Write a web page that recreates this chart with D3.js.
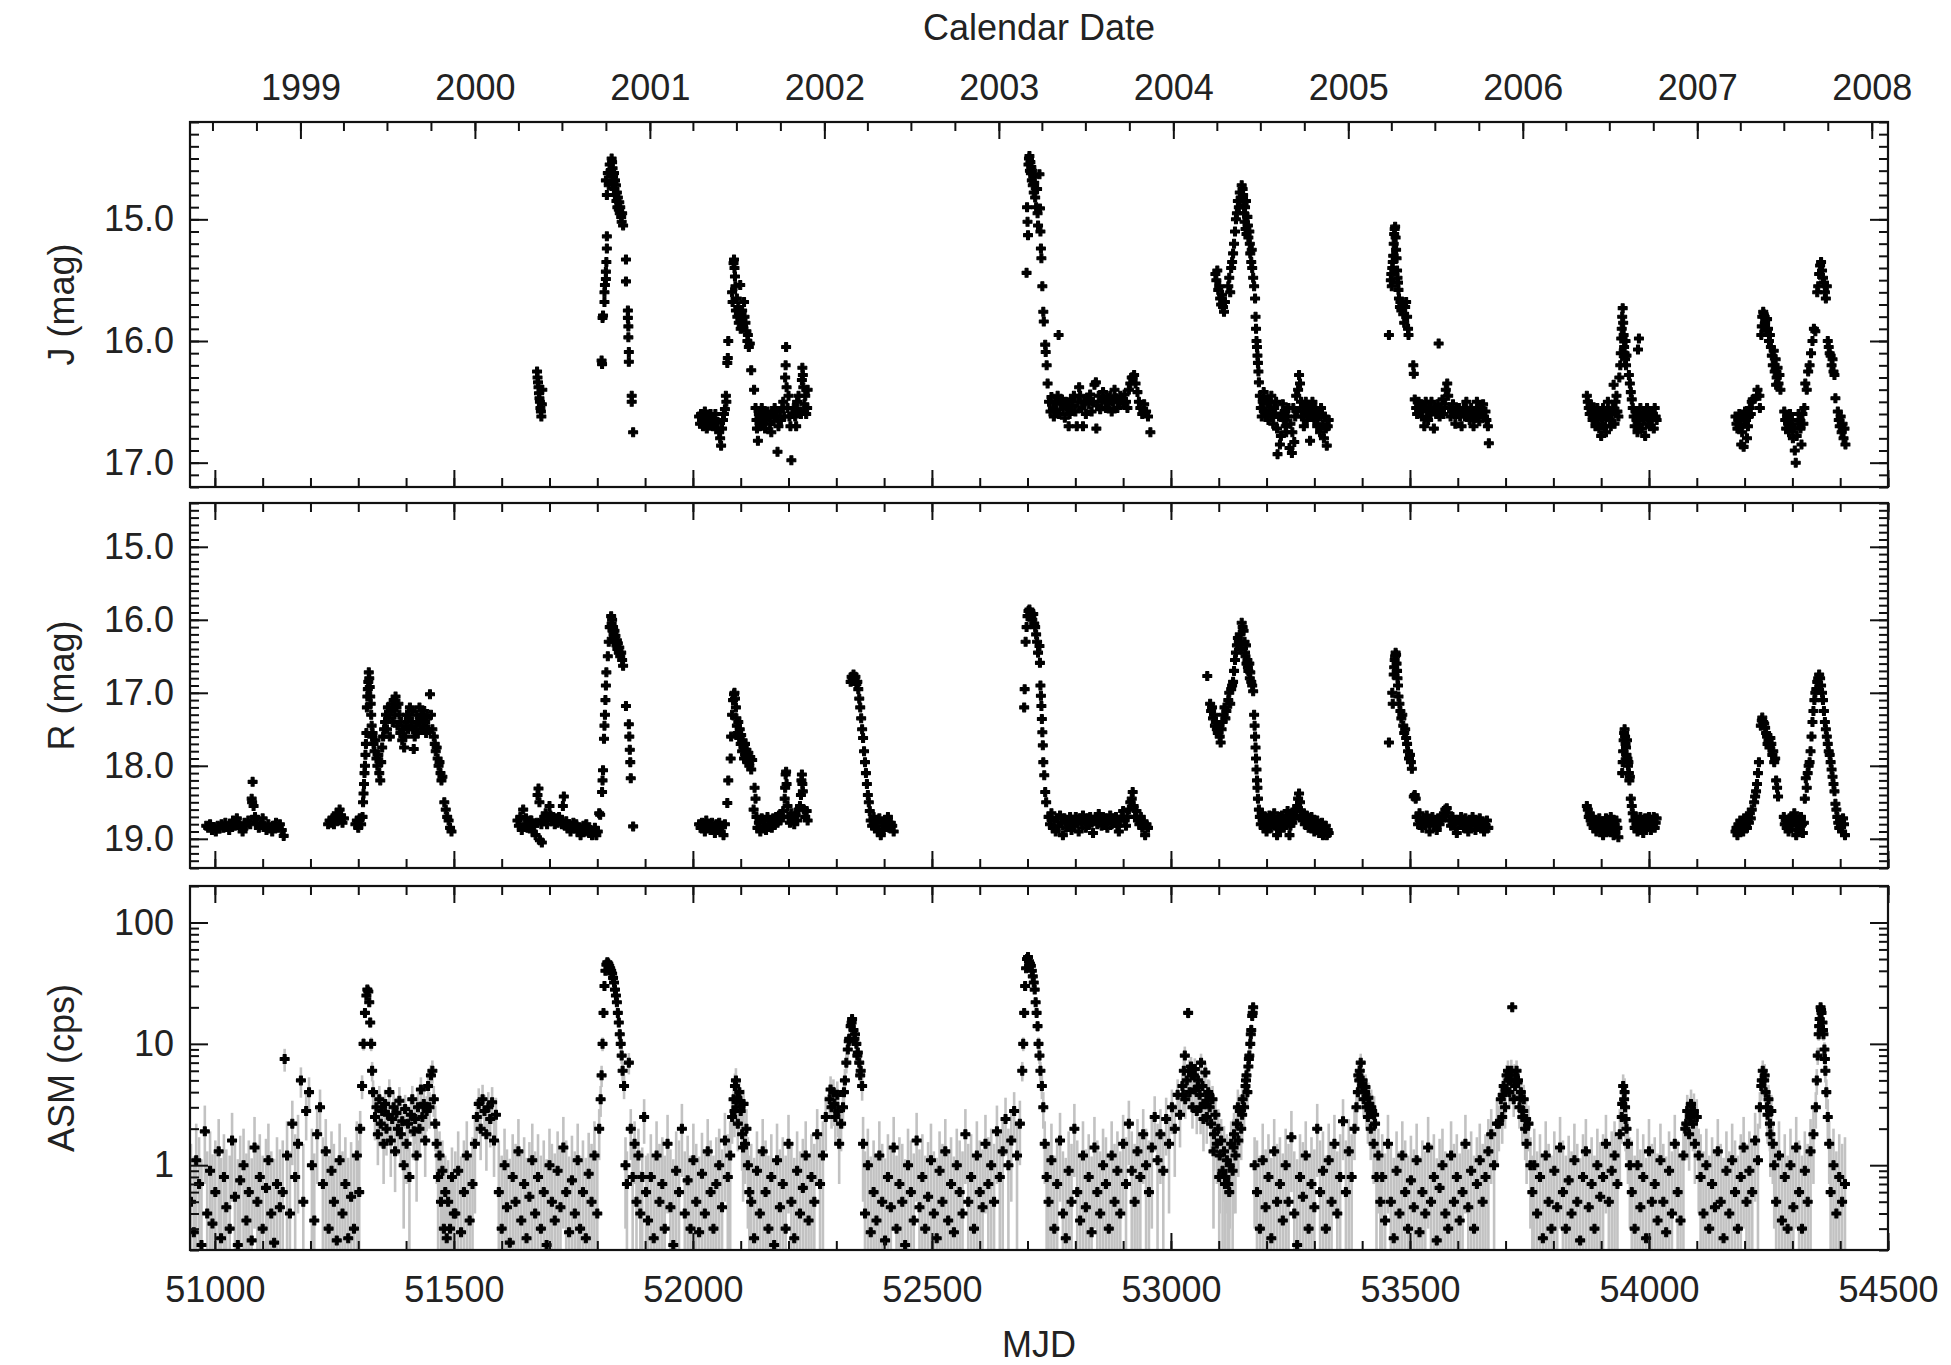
<!DOCTYPE html>
<html><head><meta charset="utf-8">
<script src="https://cdn.jsdelivr.net/npm/d3@7"></script>
<style>body{margin:0;background:#fff}svg text{font-family:"Liberation Sans",Arial,Helvetica,sans-serif;fill:#222}</style>
</head><body><svg id="chart" width="1951" height="1365"></svg>
<script>
// ---------------- DATA ----------------
const mjdTicksMajor = [51000,51500,52000,52500,53000,53500,54000,54500];
const jTicks = [15.0,16.0,17.0];
const rTicks = [15.0,16.0,17.0,18.0,19.0];
const asmTicks = [1,10,100];

// J band light curve [MJD, mag]
const jMag = [
[51674,16.25],[51675,16.3],[51676,16.34],[51677,16.38],[51678,16.43],[51679,16.47],[51680,16.5],[51681,16.55],[51682,16.58],[51683,16.62],[51684,16.52],[51685,16.4],
[51809,16.16],[51810,16.19],[51811,15.81],[51812,15.79],[51815,15.68],[51815,15.6],[51816,15.54],[51818,15.49],[51818,15.43],[51819,15.35],[51820,15.24],[51820,15.14],
[51818,14.68],[51820,14.8],[51822,14.62],[51824,14.72],[51826,14.55],[51828,14.6],[51830,14.5],[51831,14.53],[51832,14.58],[51833,14.65],[51834,14.7],[51835,14.62],[51836,14.75],[51837,14.68],[51838,14.8],[51839,14.72],[51840,14.85],[51841,14.78],[51842,14.9],[51843,14.82],[51845,14.92],[51846,14.86],[51847,14.95],[51848,14.9],[51850,14.98],[51851,15.02],[51852,14.95],[51854,15.05],
[51860,15.33],[51860,15.51],[51864,15.75],[51864,15.81],[51865,15.88],[51865,15.97],[51866,16.09],[51866,16.17],[51872,16.45],[51872,16.5],[51875,16.75],
[52013,16.62],[52015,16.68],[52017,16.6],[52019,16.65],[52021,16.7],[52023,16.63],[52025,16.58],[52027,16.66],[52029,16.72],[52032,16.62],[52034,16.68],[52037,16.6],[52040,16.65],[52042,16.7],[52045,16.64],[52047,16.6],[52050,16.72],[52052,16.67],[52055,16.75],[52057,16.8],[52059,16.86],[52061,16.72],[52063,16.65],[52065,16.6],[52067,16.56],
[52069,16.45],[52070,16.5],[52072,16.18],[52073,16.14],[52074,16.0],
[52085,15.36],[52086,15.33],[52087,15.4],[52088,15.47],[52089,15.55],[52082,15.6],[52083,15.68],[52090,15.75],[52092,15.65],[52093,15.8],[52095,15.72],[52096,15.85],[52098,15.78],[52100,15.9],[52102,15.82],[52103,15.75],[52105,15.88],[52107,15.68],[52108,15.8],[52110,15.85],[52112,15.92],[52114,16.0],[52115,15.95],[52117,16.05],[52119,16.02],[52099,15.54],
[52122,16.24],[52128,16.4],
[52131,16.55],[52133,16.65],[52134,16.72],[52136,16.82],[52138,16.6],[52140,16.7],[52142,16.62],[52144,16.55],[52146,16.68],[52148,16.6],[52151,16.72],[52153,16.65],[52156,16.58],[52159,16.62],[52161,16.68],[52164,16.75],[52166,16.6],[52169,16.66],[52171,16.55],[52174,16.62],[52177,16.91],[52179,16.7],[52182,16.58],[52184,16.65],[52187,16.55],[52189,16.5],[52191,16.62],[52193,16.3],[52194,16.2],[52195,16.05],[52196,16.38],[52198,16.55],[52200,16.45],[52202,16.62],[52204,16.7],[52206,16.98],[52208,16.6],[52211,16.55],[52214,16.62],[52216,16.7],[52218,16.5],[52221,16.45],[52224,16.58],[52226,16.6],[52228,16.32],[52229,16.22],[52230,16.28],[52231,16.38],[52233,16.52],[52235,16.45],[52237,16.6],[52239,16.55],[52240,16.4],
[52698,15.44],[52699,14.9],[52700,15.02],[52701,15.13],[52702,14.55],[52703,14.5],[52704,14.48],[52705,14.6],[52706,14.53],[52707,14.62],[52708,14.57],[52709,14.68],[52710,14.6],[52711,14.72],[52712,14.65],[52713,14.78],[52714,14.7],[52716,14.82],[52718,14.9],[52720,14.75],[52721,14.95],[52722,15.05],
[52725,14.63],[52726,14.91],[52727,15.1],[52728,15.24],[52729,15.32],[52731,15.55],[52733,15.76],[52734,15.84],[52737,16.03],[52738,16.09],[52740,16.2],[52742,16.35],[52765,15.95],
[52745,16.5],[52748,16.58],[52750,16.46],[52753,16.55],[52755,16.62],[52758,16.5],[52760,16.57],[52763,16.45],[52766,16.6],[52769,16.52],[52772,16.48],[52775,16.56],[52778,16.63],[52780,16.5],[52783,16.55],[52786,16.7],[52788,16.6],[52791,16.48],[52794,16.53],[52797,16.45],[52800,16.58],[52803,16.7],[52805,16.5],[52808,16.38],[52810,16.45],[52813,16.55],[52816,16.7],[52819,16.5],[52822,16.6],[52825,16.47],[52828,16.52],[52831,16.44],[52834,16.58],[52837,16.5],[52840,16.36],[52843,16.34],[52846,16.53],[52849,16.45],[52844,16.72],[52852,16.56],[52855,16.5],[52858,16.42],[52861,16.48],[52864,16.55],[52867,16.47],[52870,16.52],[52873,16.45],[52876,16.58],[52879,16.5],[52882,16.4],[52885,16.47],[52888,16.55],[52891,16.5],[52894,16.45],[52897,16.48],[52900,16.52],[52903,16.44],[52906,16.5],[52909,16.55],[52912,16.4],[52915,16.35],[52918,16.3],[52920,16.3],[52923,16.28],[52926,16.35],[52930,16.42],[52933,16.5],[52936,16.55],[52940,16.6],[52944,16.52],[52948,16.58],[52952,16.62],[52957,16.75],
[53093,15.45],[53095,15.5],[53097,15.42],[53099,15.58],[53101,15.55],[53103,15.65],[53105,15.7],[53107,15.62],[53109,15.72],[53111,15.76],[53113,15.68],
[53120,15.55],[53122,15.48],[53124,15.6],[53126,15.4],[53128,15.35],[53130,15.28],[53132,15.2],[53134,15.1],
[53136,15.0],[53138,14.95],[53140,14.85],[53142,14.9],[53144,14.78],[53146,14.82],[53148,14.72],[53150,14.75],[53151,14.8],[53152,14.88],[53153,14.95],[53154,15.02],[53155,14.9],[53156,15.08],[53157,14.85],[53158,15.12],[53160,14.98],[53161,15.05],[53162,15.15],[53164,15.1],[53165,15.2],[53166,15.28],[53168,15.35],[53169,15.25],[53170,15.4],[53172,15.48],
[53174,15.55],[53176,15.65],[53177,15.8],[53178,15.9],[53179,16.0],[53180,16.05],[53181,16.12],[53182,16.18],[53183,16.25],[53184,16.34],
[53186,16.45],[53188,16.55],[53190,16.62],[53192,16.5],[53194,16.42],[53196,16.58],[53198,16.48],[53200,16.6],[53202,16.52],[53204,16.65],[53206,16.5],[53208,16.57],[53210,16.45],[53212,16.62],[53214,16.68],[53216,16.55],[53218,16.6],[53220,16.5],[53222,16.72],[53223,16.93],[53226,16.62],[53228,16.85],[53230,16.78],[53232,16.6],[53234,16.52],[53236,16.65],[53238,16.58],[53240,16.7],[53241,16.75],[53244,16.62],[53246,16.55],[53248,16.88],[53250,16.68],[53253,16.92],[53254,16.75],[53256,16.55],[53258,16.83],[53260,16.62],[53262,16.45],[53264,16.58],[53266,16.4],[53268,16.28],[53270,16.35],[53272,16.5],[53274,16.62],[53276,16.55],[53278,16.7],[53280,16.58],[53282,16.5],[53284,16.65],[53286,16.55],[53288,16.6],[53291,16.82],[53292,16.55],[53294,16.62],[53296,16.5],[53298,16.58],[53300,16.65],[53302,16.55],[53304,16.6],[53306,16.7],[53308,16.58],[53310,16.62],[53312,16.75],[53314,16.55],[53316,16.6],[53318,16.68],[53320,16.8],[53322,16.62],[53324,16.72],[53326,16.86],[53328,16.7],[53330,16.65],
[53456,15.95],[53460,15.5],[53461,15.45],[53462,15.55],[53463,15.4],[53464,15.35],[53465,15.3],[53466,15.2],[53467,15.12],[53468,15.08],[53469,15.06],[53470,15.15],[53471,15.25],[53472,15.32],[53473,15.42],[53474,15.48],[53475,15.52],[53476,15.58],
[53477,15.65],[53479,15.72],[53480,15.68],[53482,15.75],[53484,15.7],[53486,15.78],[53488,15.85],[53490,15.72],[53492,15.68],[53494,15.8],[53496,15.9],[53497,15.95],[53507,16.2],[53508,16.27],[53560,16.02],
[53510,16.48],[53513,16.55],[53515,16.6],[53518,16.5],[53520,16.58],[53523,16.52],[53525,16.62],[53528,16.55],[53530,16.7],[53533,16.5],[53535,16.58],[53538,16.65],[53540,16.55],[53543,16.6],[53545,16.5],[53548,16.58],[53550,16.72],[53553,16.55],[53555,16.6],[53558,16.52],[53562,16.62],[53563,16.55],[53565,16.58],[53568,16.48],[53570,16.6],[53573,16.52],[53575,16.4],[53578,16.35],[53580,16.45],[53583,16.55],[53585,16.62],[53588,16.58],[53590,16.52],[53593,16.6],[53595,16.68],[53598,16.55],[53600,16.6],[53603,16.55],[53605,16.62],[53608,16.7],[53610,16.58],[53613,16.55],[53615,16.62],[53618,16.5],[53620,16.58],[53623,16.6],[53625,16.65],[53628,16.55],[53630,16.6],[53633,16.7],[53635,16.58],[53638,16.62],[53640,16.5],[53643,16.58],[53645,16.66],[53648,16.55],[53650,16.6],[53653,16.52],[53655,16.62],[53658,16.58],[53660,16.65],[53663,16.7],[53665,16.84],
[53870,16.45],[53872,16.5],[53874,16.55],[53876,16.6],[53878,16.52],[53880,16.58],[53882,16.65],[53884,16.55],[53886,16.62],[53888,16.7],[53890,16.6],[53892,16.55],[53894,16.65],[53896,16.72],[53898,16.6],[53900,16.78],[53902,16.68],[53904,16.55],[53906,16.62],[53908,16.7],[53910,16.75],[53912,16.6],[53914,16.5],[53916,16.58],[53918,16.65],[53920,16.7],[53922,16.6],[53924,16.55],[53926,16.36],[53928,16.68],[53930,16.5],[53932,16.45],[53934,16.58],[53936,16.62],
[53938,16.3],[53940,16.2],[53941,16.1],[53942,15.98],[53943,15.9],[53944,15.8],[53945,15.73],[53946,15.85],[53947,15.95],[53948,16.05],[53949,16.1],[53950,16.15],[53951,16.0],[53952,16.2],[53953,16.12],[53977,16.07],[53979,15.98],
[53958,16.28],[53960,16.35],[53962,16.42],[53964,16.48],
[53966,16.55],[53968,16.62],[53970,16.7],[53972,16.58],[53974,16.65],[53976,16.75],[53978,16.6],[53980,16.68],[53982,16.55],[53984,16.62],[53986,16.72],[53988,16.6],[53990,16.65],[53992,16.78],[53994,16.6],[53996,16.55],[53998,16.68],[54000,16.62],[54002,16.7],[54004,16.58],[54006,16.65],[54008,16.6],[54010,16.72],[54012,16.55],[54014,16.62],[54016,16.65],
[54181,16.62],[54183,16.68],[54185,16.72],[54187,16.65],[54189,16.6],[54191,16.7],[54193,16.85],[54195,16.75],[54197,16.62],[54198,16.87],[54199,16.68],[54201,16.58],[54203,16.65],[54205,16.8],[54207,16.7],[54209,16.62],[54211,16.55],[54213,16.6],[54215,16.5],[54217,16.48],[54226,16.45],[54227,16.4],[54231,16.45],[54232,16.55],
[54235,15.95],[54236,15.88],[54237,15.8],[54239,15.76],[54240,15.78],[54242,15.8],
[54243,15.85],[54245,15.92],[54247,15.82],[54249,15.9],[54251,16.0],[54253,15.95],[54255,16.05],[54257,16.12],[54259,16.2],[54261,16.08],[54263,16.25],[54265,16.15],[54266,16.36],[54267,16.3],[54269,16.22],[54271,16.35],[54273,16.28],[54275,16.4],
[54283,16.58],[54285,16.65],[54287,16.72],[54289,16.62],[54291,16.68],[54293,16.75],[54295,16.6],[54297,16.7],[54299,16.65],[54301,16.8],[54303,16.72],[54305,16.9],[54307,17.0],[54309,16.78],[54311,16.68],[54313,16.6],[54315,16.65],[54317,16.72],[54319,16.85],[54321,16.6],[54323,16.68],[54325,16.55],
[54327,16.35],[54330,16.4],[54333,16.25],[54336,16.2],[54339,16.1],[54342,16.0],[54345,15.9],[54348,15.92],
[54352,15.6],[54354,15.55],[54356,15.45],[54358,15.38],[54360,15.35],[54362,15.42],[54364,15.48],[54366,15.52],[54368,15.6],[54370,15.65],[54372,15.55],
[54374,16.0],[54376,16.05],[54378,16.1],[54380,16.12],[54382,16.2],[54384,16.15],[54386,16.25],[54388,16.28],[54390,16.47],
[54395,16.58],[54397,16.65],[54399,16.7],[54401,16.62],[54403,16.75],[54405,16.68],[54407,16.8],[54409,16.72],[54411,16.85]
];

// R band light curve [MJD, mag]
const rMag = [
[50982,18.82],[50986,18.85],[50990,18.8],[50994,18.88],[50998,18.84],[51002,18.9],[51006,18.82],[51010,18.86],[51014,18.8],[51018,18.85],[51022,18.78],[51026,18.83],[51030,18.88],[51034,18.8],[51038,18.75],[51042,18.82],[51046,18.72],[51050,18.8],[51054,18.85],[51058,18.9],[51062,18.78],[51066,18.82],[51070,18.75],[51074,18.8],[51077,18.45],[51078,18.5],[51079,18.22],[51081,18.55],[51084,18.7],[51088,18.78],[51092,18.85],[51096,18.8],[51100,18.72],[51104,18.82],[51108,18.88],[51112,18.8],[51116,18.85],[51120,18.9],[51124,18.82],[51128,18.78],[51132,18.85],[51136,18.8],[51140,18.88],[51144,18.96],
[51237,18.8],[51240,18.75],[51243,18.78],[51246,18.72],[51249,18.8],[51252,18.7],[51255,18.65],[51258,18.75],[51261,18.6],[51264,18.68],[51267,18.78],[51270,18.72],
[51294,18.8],[51297,18.75],[51300,18.85],[51303,18.72],[51306,18.8],[51309,18.7],
[51310,18.5],[51311,18.38],[51312,18.25],[51313,18.1],[51314,18.0],[51315,17.85],[51316,17.7],[51317,17.55],
[51318,17.2],[51319,17.05],[51320,16.95],[51321,16.85],[51322,16.72],[51323,16.8],[51324,16.92],[51325,17.05],[51326,17.15],
[51327,17.3],[51328,17.45],[51329,17.6],[51330,17.55],[51332,17.7],[51334,17.8],[51336,17.65],[51338,17.9],[51340,18.0],[51342,17.85],[51344,18.1],[51346,18.2],[51348,17.95],[51350,17.75],[51352,17.6],[51354,17.5],[51356,17.4],
[51358,17.3],[51360,17.5],[51362,17.2],[51364,17.35],[51366,17.6],[51368,17.25],[51370,17.15],[51372,17.4],[51374,17.1],[51376,17.3],[51378,17.05],[51380,17.2],[51382,17.45],[51384,17.15],[51386,17.3],[51388,17.55],[51390,17.4],[51392,17.65],[51394,17.5],[51396,17.75],[51398,17.6],[51400,17.45],[51402,17.3],[51404,17.5],[51406,17.35],[51408,17.2],[51410,17.4],[51412,17.25],[51414,17.5],[51416,17.77],[51418,17.6],[51420,17.45],[51422,17.3],[51424,17.55],[51426,17.4],[51428,17.2],[51430,17.35],[51432,17.5],[51434,17.3],[51436,17.45],[51438,17.25],[51440,17.4],[51442,17.55],[51444,17.35],[51446,17.5],[51450,17.02],[51452,17.3],
[51455,17.5],[51458,17.6],[51460,17.7],[51462,17.8],[51464,17.75],[51466,17.9],[51468,18.0],[51470,17.95],[51472,18.1],[51474,18.2],[51476,18.15],
[51480,18.5],[51483,18.6],[51486,18.7],[51489,18.75],[51492,18.85],[51495,18.9],
[51633,18.75],[51636,18.82],[51639,18.7],[51642,18.88],[51645,18.6],[51648,18.8],[51651,18.72],[51654,18.85],[51657,18.8],[51660,18.75],[51662,18.75],[51665,18.9],[51668,18.82],[51671,18.95],[51674,18.78],[51675,18.4],[51677,18.31],[51679,18.5],[51680,19.02],[51683,18.8],[51684,19.05],[51686,18.75],[51689,18.7],[51692,18.65],[51695,18.8],[51700,18.55],[51702,18.68],[51705,18.75],[51708,18.7],[51711,18.8],[51714,18.72],[51717,18.78],[51720,18.7],[51723,18.75],[51726,18.8],[51728,18.55],[51730,18.42],[51732,18.82],[51735,18.76],[51738,18.85],[51741,18.8],[51744,18.9],[51747,18.82],[51750,18.78],[51753,18.85],[51756,18.8],[51759,18.9],[51762,18.85],[51765,18.95],[51768,18.88],[51771,18.82],[51774,18.9],[51777,18.8],[51780,18.85],[51783,18.92],[51786,18.88],[51789,18.95],[51792,18.9],[51795,18.85],[51798,18.95],[51801,18.9],[51804,18.65],
[51806,18.67],[51810,18.36],[51811,18.2],[51812,18.06],[51814,17.63],[51815,17.45],[51816,17.3],[51817,17.1],[51818,16.9],[51819,16.72],[51822,16.5],[51824,16.3],[51826,16.1],[51829,15.95],[51830,16.05],[51831,16.0],[51832,16.15],[51833,16.1],[51834,16.2],[51835,16.25],[51836,16.15],[51837,16.3],[51838,16.22],[51840,16.35],[51841,16.28],[51842,16.4],[51843,16.32],[51845,16.45],[51846,16.38],[51848,16.5],[51850,16.45],[51852,16.55],[51854,16.63],
[51860,17.18],[51866,17.43],[51867,17.6],[51868,17.78],[51869,17.95],[51870,18.17],[51875,18.83],
[52013,18.8],[52016,18.85],[52019,18.78],[52022,18.82],[52025,18.9],[52028,18.75],[52031,18.85],[52034,18.8],[52037,18.88],[52040,18.78],[52043,18.85],[52046,18.92],[52049,18.8],[52052,18.86],[52055,18.78],[52058,18.9],[52061,18.82],[52064,18.95],[52067,18.8],
[52072,18.51],[52074,18.2],
[52082,17.3],[52084,17.1],[52086,17.02],[52087,17.0],[52088,17.08],[52090,17.2],[52091,17.35],
[52079,17.9],[52080,17.6],[52092,17.45],[52094,17.55],[52095,17.4],[52097,17.62],[52098,17.5],[52100,17.7],[52101,17.58],[52103,17.8],[52104,17.65],[52106,17.75],[52107,17.9],[52109,17.7],[52110,17.85],[52112,17.78],[52114,17.95],[52116,17.82],[52118,18.0],[52120,17.88],[52122,18.05],[52124,17.92],
[52127,18.6],[52129,18.3],[52131,18.45],[52133,18.7],[52135,18.85],[52138,18.78],[52141,18.9],[52144,18.72],[52147,18.82],[52150,18.75],[52153,18.88],[52156,18.7],[52159,18.8],[52162,18.75],[52165,18.85],[52168,18.72],[52171,18.8],[52174,18.7],[52177,18.78],[52180,18.68],[52183,18.75],[52186,18.7],[52189,18.62],[52192,18.45],[52193,18.3],[52194,18.12],[52195,18.08],[52196,18.25],[52198,18.55],[52200,18.7],[52203,18.78],[52206,18.65],[52209,18.72],[52212,18.8],[52215,18.68],[52218,18.75],[52221,18.6],[52224,18.55],[52226,18.4],[52227,18.2],[52228,18.12],[52229,18.25],[52230,18.35],[52232,18.6],[52235,18.7],[52238,18.62],[52240,18.75],
[52330,16.85],[52332,16.78],[52334,16.8],[52336,16.75],[52338,16.82],[52340,16.78],[52342,16.88],[52344,16.85],[52346,16.95],
[52348,17.08],[52350,17.2],[52352,17.35],[52354,17.5],[52356,17.62],[52358,17.8],[52360,17.95],[52362,18.1],[52364,18.25],[52366,18.4],[52368,18.5],[52370,18.62],
[52372,18.75],[52375,18.82],[52378,18.7],[52381,18.85],[52384,18.78],[52387,18.9],[52390,18.72],[52393,18.95],[52396,18.82],[52399,18.88],[52402,18.75],[52405,18.8],[52408,18.7],[52411,18.85],[52414,18.78],[52417,18.82],[52420,18.9],
[52693,17.2],[52694,16.95],[52696,16.3],[52698,16.1],[52700,15.95],[52702,15.88],[52704,15.86],[52706,15.9],[52708,15.95],[52710,16.0],[52712,15.92],[52714,16.05],[52716,16.1],[52718,16.2],[52720,16.3],[52722,16.45],
[52725,16.36],[52726,16.59],[52727,16.9],[52728,17.04],[52729,17.18],[52730,17.36],[52731,17.54],[52732,17.72],[52733,17.95],[52735,18.13],[52737,18.36],[52739,18.5],
[52744,18.7],[52747,18.8],[52750,18.65],[52753,18.85],[52756,18.75],[52759,18.9],[52762,18.72],[52765,18.82],[52768,18.68],[52771,18.78],[52774,18.95],[52777,18.72],[52780,18.85],[52783,18.75],[52786,18.8],[52789,18.7],[52792,18.88],[52795,18.76],[52798,18.82],[52801,18.7],[52804,18.78],[52807,18.9],[52810,18.72],[52813,18.8],[52816,18.68],[52819,18.75],[52822,18.85],[52825,18.72],[52828,18.8],[52831,18.7],[52834,18.78],[52837,18.92],[52840,18.75],[52843,18.7],[52846,18.8],[52849,18.66],[52852,18.75],[52855,18.82],[52858,18.7],[52861,18.78],[52864,18.72],[52867,18.85],[52870,18.75],[52873,18.68],[52876,18.8],[52879,18.72],[52882,18.78],[52885,18.7],[52888,18.82],[52891,18.9],[52894,18.75],[52897,18.7],[52900,18.62],[52903,18.75],[52906,18.82],[52909,18.7],[52912,18.6],[52915,18.5],[52918,18.45],[52920,18.36],[52922,18.55],[52925,18.7],[52928,18.62],[52931,18.75],[52934,18.8],[52937,18.7],[52940,18.85],[52943,18.78],[52946,18.95],[52949,18.8],[52952,18.85],
[53076,16.77],[53082,17.15],[53084,17.25],[53086,17.2],[53088,17.35],[53090,17.3],[53092,17.45],[53094,17.4],[53096,17.5],[53098,17.55],[53100,17.45],[53102,17.6],[53104,17.68],[53106,17.5],[53108,17.4],[53110,17.3],[53112,17.2],[53114,17.35],[53116,17.25],
[53120,17.1],[53122,17.0],[53124,17.15],[53126,16.95],[53128,16.9],[53130,16.85],[53132,16.7],[53134,16.55],[53136,16.45],
[53138,16.35],[53140,16.25],[53142,16.3],[53144,16.2],[53146,16.4],[53148,16.04],[53150,16.1],[53152,16.15],[53154,16.3],[53155,16.45],[53156,16.5],[53157,16.35],[53158,16.6],[53160,16.55],[53161,16.65],[53162,16.7],[53164,16.6],[53165,16.8],[53166,16.72],[53168,16.85],[53170,16.9],[53172,16.98],
[53174,17.3],[53175,17.45],[53176,17.6],[53177,17.75],[53178,17.9],[53179,18.05],[53180,18.2],[53181,18.3],[53182,18.45],
[53184,18.6],[53186,18.7],[53188,18.8],[53190,18.65],[53192,18.75],[53194,18.85],[53196,18.7],[53198,18.78],[53200,18.9],[53202,18.72],[53204,18.8],[53206,18.68],[53208,18.75],[53210,18.85],[53212,18.7],[53214,18.78],[53216,18.65],[53218,18.82],[53220,18.75],[53222,18.95],[53224,18.8],[53226,18.7],[53228,18.88],[53230,18.75],[53232,18.68],[53234,18.78],[53236,18.85],[53238,18.72],[53240,18.8],[53242,18.7],[53244,18.62],[53246,18.75],[53248,18.95],[53250,18.82],[53252,18.7],[53254,18.78],[53256,18.65],[53258,18.72],[53260,18.6],[53262,18.68],[53264,18.55],[53266,18.45],[53268,18.38],[53270,18.5],[53272,18.62],[53274,18.7],[53276,18.75],[53278,18.65],[53280,18.8],[53282,18.72],[53284,18.68],[53286,18.78],[53288,18.85],[53290,18.72],[53292,18.8],[53294,18.7],[53296,18.75],[53298,18.82],[53300,18.9],[53302,18.78],[53304,18.85],[53306,18.75],[53308,18.8],[53310,18.92],[53312,18.82],[53314,18.88],[53316,18.78],[53318,18.95],[53320,18.85],[53322,18.9],[53324,18.82],[53326,18.95],[53328,18.88],[53330,18.92],
[53456,17.68],[53463,17.0],[53464,17.15],[53466,16.75],[53467,16.65],[53468,16.55],[53469,16.5],[53470,16.45],[53471,16.48],[53472,16.6],[53473,16.7],[53474,16.8],[53475,16.9],
[53476,17.05],[53478,17.15],[53480,17.25],[53482,17.35],[53484,17.3],[53486,17.45],[53488,17.55],[53490,17.5],[53492,17.62],[53494,17.7],[53496,17.8],[53498,17.9],[53500,17.85],[53502,17.95],[53504,18.04],
[53508,18.42],[53510,18.4],[53512,18.45],
[53514,18.7],[53517,18.8],[53520,18.65],[53523,18.75],[53526,18.85],[53529,18.72],[53532,18.8],[53535,18.68],[53538,18.78],[53541,18.9],[53544,18.75],[53547,18.7],[53550,18.82],[53553,18.78],[53556,18.88],[53559,18.72],[53562,18.8],[53565,18.75],[53568,18.7],[53571,18.65],[53574,18.6],[53577,18.58],[53580,18.65],[53583,18.75],[53586,18.82],[53589,18.7],[53592,18.78],[53595,18.85],[53598,18.92],[53601,18.75],[53604,18.8],[53607,18.7],[53610,18.78],[53613,18.85],[53616,18.72],[53619,18.8],[53622,18.9],[53625,18.75],[53628,18.82],[53631,18.7],[53634,18.78],[53637,18.88],[53640,18.75],[53643,18.8],[53646,18.72],[53649,18.85],[53652,18.78],[53655,18.9],[53658,18.82],[53661,18.75],[53664,18.85],
[53870,18.55],[53872,18.6],[53874,18.7],[53876,18.65],[53878,18.75],[53880,18.8],[53882,18.7],[53884,18.85],[53886,18.75],[53888,18.8],[53890,18.9],[53892,18.78],[53894,18.85],[53896,18.72],[53898,18.8],[53900,18.9],[53902,18.82],[53904,18.95],[53906,18.78],[53908,18.85],[53910,18.72],[53912,18.8],[53914,18.9],[53916,18.75],[53918,18.82],[53920,18.7],[53922,18.85],[53924,18.78],[53926,18.95],[53928,18.8],[53930,18.9],[53932,18.75],[53934,18.85],[53936,18.98],
[53944,18.1],[53945,17.95],[53946,17.8],[53947,17.65],[53948,17.55],[53949,17.5],[53950,17.6],[53951,17.7],[53952,17.75],[53953,17.85],[53954,17.65],[53955,17.9],[53956,18.0],[53957,17.95],[53958,18.1],[53959,18.2],[53960,18.15],
[53962,18.45],[53964,18.55],[53966,18.65],[53968,18.75],[53970,18.85],[53972,18.7],[53974,18.8],[53976,18.9],[53978,18.75],[53980,18.82],[53982,18.7],[53984,18.85],[53986,18.78],[53988,18.92],[53990,18.8],[53992,18.72],[53994,18.85],[53996,18.75],[53998,18.82],[54000,18.7],[54002,18.78],[54004,18.88],[54006,18.75],[54008,18.8],[54010,18.7],[54012,18.85],[54014,18.78],[54016,18.72],
[54181,18.9],[54183,18.85],[54185,18.95],[54187,18.8],[54189,18.88],[54191,18.75],[54193,18.85],[54195,18.78],[54197,18.9],[54199,18.72],[54201,18.82],[54203,18.75],[54205,18.85],[54207,18.7],[54209,18.78],[54211,18.65],[54213,18.72],[54215,18.6],
[54220,18.5],[54222,18.42],[54224,18.35],[54226,18.25],[54228,18.1],[54230,17.95],
[54234,17.45],[54236,17.38],[54237,17.34],[54239,17.4],[54241,17.42],[54243,17.48],[54245,17.55],[54247,17.6],[54248,17.7],[54250,17.65],[54252,17.75],[54254,17.62],[54256,17.7],[54258,17.85],[54260,17.8],[54262,17.95],[54264,17.9],
[54266,18.2],[54268,18.3],[54270,18.42],
[54282,18.7],[54284,18.8],[54286,18.75],[54288,18.85],[54290,18.78],[54292,18.9],[54294,18.72],[54296,18.8],[54298,18.7],[54300,18.82],[54302,18.75],[54304,18.65],[54306,18.72],[54308,18.95],[54310,18.8],[54312,18.88],[54314,18.75],[54316,18.82],[54318,18.7],[54320,18.8],[54322,18.92],[54324,18.78],
[54326,18.45],[54328,18.17],[54330,18.3],[54332,18.1],[54334,18.0],[54336,17.95],[54338,17.8],[54340,17.6],
[54342,17.4],[54344,17.25],[54346,17.1],[54348,17.0],[54350,16.95],[54352,16.85],[54354,16.8],[54356,16.75],[54358,16.8],[54360,16.9],[54362,17.0],[54364,17.1],
[54366,17.25],[54368,17.4],[54370,17.5],[54372,17.6],[54374,17.7],[54376,17.8],[54378,17.85],[54380,17.95],[54382,18.05],[54384,18.15],[54386,18.25],[54388,18.35],
[54390,18.52],[54392,18.6],[54394,18.7],[54396,18.78],[54398,18.85],[54400,18.75],[54402,18.82],[54404,18.9],[54406,18.72],[54408,18.8],[54410,18.95]
];

// RXTE/ASM count rate, quiescent intervals [MJD, cps, error]
const asmQuiet = [
[50950,0.5,1.0],[50956,0.28,0.9],[50961,1.1,1.1],[50967,0.7,1.0],[50972,0.22,0.9],[50979,1.9,1.2],[50984,0.4,0.9],[50990,0.9,1.0],[50995,0.33,0.9],[51001,0.6,1.0],[51008,1.3,1.1],[51013,0.25,0.9],[51019,0.8,1.0],[51024,0.45,0.9],[51031,0.3,0.9],[51036,1.6,1.1],[51042,0.55,1.0],[51048,0.22,0.9],[51053,0.75,1.0],[51060,1.0,1.0],[51066,0.35,0.9],[51071,0.6,1.0],[51077,0.24,0.9],[51083,1.4,1.1],[51089,0.5,1.0],[51094,0.8,1.0],[51100,0.3,0.9],[51107,0.65,1.0],[51112,1.1,1.1],[51118,0.4,0.9],[51124,0.23,0.9],[51130,0.7,1.0],[51136,0.45,0.9],
[51142,0.6,1.0],[51146,7.5,1.6],[51151,1.2,1.1],[51157,0.4,0.9],[51162,2.2,1.2],[51168,0.8,1.0],[51174,1.5,1.1],[51180,5.0,1.4],[51185,0.5,1.0],[51191,2.8,1.2],[51197,4.0,1.3],[51203,1.0,1.0],[51208,0.35,0.9],[51214,1.8,1.1],[51220,3.0,1.2],[51226,0.7,1.0],[51232,1.3,1.1],[51238,0.3,0.9],[51244,0.9,1.0],[51249,0.5,1.0],[51255,0.24,0.9],[51261,1.1,1.1],[51267,0.4,0.9],[51273,0.7,1.0],[51279,0.25,0.9],[51285,0.55,1.0],[51291,0.3,0.9],[51297,1.2,1.1],[51302,0.6,1.0],
[51503,0.4,0.9],[51509,0.9,1.0],[51515,0.28,0.9],[51521,0.6,1.0],[51527,1.2,1.1],[51533,0.35,0.9],[51539,0.7,1.0],[51544,1.5,1.1],
[51594,0.6,1.0],[51600,0.3,0.9],[51606,1.0,1.0],[51611,0.45,0.9],[51617,0.23,0.9],[51623,0.8,1.0],[51629,0.5,1.0],[51635,1.3,1.1],[51641,0.35,0.9],[51647,0.7,1.0],[51652,0.25,0.9],[51658,0.55,1.0],[51664,1.1,1.1],[51670,0.4,0.9],[51676,0.8,1.0],[51682,0.3,0.9],[51688,0.6,1.0],[51694,0.22,0.9],[51700,1.0,1.0],[51705,0.5,1.0],[51711,0.35,0.9],[51717,0.9,1.0],[51723,0.45,0.9],[51729,1.4,1.1],[51735,0.6,1.0],[51741,0.28,0.9],[51747,0.75,1.0],[51753,0.4,0.9],[51759,1.1,1.1],[51764,0.3,0.9],[51770,0.6,1.0],[51776,0.25,0.9],[51782,0.85,1.0],[51788,0.5,1.0],[51794,1.2,1.1],[51800,0.4,0.9],
[51906,0.35,0.9],[51912,0.8,1.0],[51918,0.25,0.9],[51924,1.2,1.1],[51930,0.5,1.0],[51936,0.7,1.0],[51941,0.3,0.9],[51947,1.5,1.1],[51953,0.45,0.9],[51959,0.22,0.9],[51965,0.9,1.0],[51971,0.6,1.0],[51977,2.0,1.2],[51983,0.4,0.9],[51989,0.75,1.0],[51995,0.3,0.9],[52001,1.1,1.1],[52007,0.5,1.0],[52013,0.28,0.9],[52019,0.85,1.0],[52025,0.4,0.9],[52031,1.3,1.1],[52037,0.6,1.0],[52043,0.3,0.9],[52049,0.7,1.0],[52055,1.0,1.0],[52061,0.45,0.9],[52067,1.6,1.1],[52073,0.8,1.0],[52078,1.2,1.1],
[52122,0.5,1.0],[52128,0.25,0.9],[52134,0.9,1.0],[52140,0.4,0.9],[52146,1.3,1.1],[52152,0.6,1.0],[52158,0.3,0.9],[52164,0.8,1.0],[52170,0.22,0.9],[52176,1.1,1.1],[52182,0.45,0.9],[52188,0.7,1.0],[52194,0.3,0.9],[52200,1.5,1.1],[52206,0.5,1.0],[52212,0.25,0.9],[52218,0.9,1.0],[52224,0.4,0.9],[52230,0.65,1.0],[52236,1.2,1.1],[52242,0.35,0.9],[52248,0.8,1.0],[52254,0.5,1.0],[52260,1.8,1.1],[52266,0.7,1.0],[52272,1.2,1.1],[52278,2.5,1.2],
[52360,0.4,0.9],[52366,1.0,1.0],[52372,0.28,0.9],[52378,0.6,1.0],[52384,0.35,0.9],[52390,1.2,1.1],[52396,0.5,1.0],[52402,0.24,0.9],[52408,0.8,1.0],[52414,0.45,0.9],[52420,1.4,1.1],[52426,0.3,0.9],[52432,0.7,1.0],[52438,0.5,1.0],[52444,0.22,0.9],[52450,1.0,1.0],[52456,0.6,1.0],[52462,0.35,0.9],[52468,1.6,1.1],[52474,0.45,0.9],[52480,0.8,1.0],[52486,0.3,0.9],[52492,0.55,1.0],[52498,1.1,1.1],[52504,0.4,0.9],[52510,0.25,0.9],[52516,0.9,1.0],[52522,0.5,1.0],[52528,1.3,1.1],[52534,0.35,0.9],[52540,0.7,1.0],[52546,0.28,0.9],[52552,1.0,1.0],[52558,0.6,1.0],[52564,0.4,0.9],[52570,1.8,1.1],[52576,0.5,1.0],[52582,0.8,1.0],[52588,0.3,0.9],[52594,1.2,1.1],[52600,0.6,1.0],[52606,0.45,0.9],[52612,1.5,1.1],[52618,0.7,1.0],[52624,1.0,1.0],[52630,0.5,1.0],[52636,1.9,1.2],[52642,0.8,1.0],[52648,1.3,1.1],[52654,2.4,1.2],[52660,1.0,1.0],[52666,1.6,1.1],[52672,2.8,1.2],[52678,1.2,1.1],[52684,2.2,1.2],
[52744,0.5,1.0],[52750,1.1,1.1],[52756,0.3,0.9],[52762,0.7,1.0],[52768,1.6,1.1],[52774,0.4,0.9],[52780,0.25,0.9],[52786,0.9,1.0],[52792,0.5,1.0],[52798,2.0,1.2],[52804,0.6,1.0],[52810,0.35,0.9],[52816,1.2,1.1],[52822,0.45,0.9],[52828,0.8,1.0],[52834,0.28,0.9],[52840,1.4,1.1],[52846,0.6,1.0],[52852,0.4,0.9],[52858,1.0,1.0],[52864,0.7,1.0],[52870,0.3,0.9],[52876,1.2,1.1],[52882,0.5,1.0],[52888,0.9,1.0],[52894,0.4,0.9],[52900,1.5,1.1],[52906,0.7,1.0],[52912,2.2,1.2],[52918,0.9,1.0],[52924,0.5,1.0],[52930,1.3,1.1],[52936,0.8,1.0],[52942,1.8,1.1],[52948,1.0,1.0],[52954,0.6,1.0],[52960,1.4,1.1],[52966,2.5,1.2],[52972,1.1,1.1],[52978,1.8,1.1],[52984,0.9,1.0],[52990,2.4,1.2],[52996,1.5,1.1],[53002,3.0,1.2],[53008,2.0,1.2],[53014,3.8,1.3],[53019,2.6,1.2],
[53180,0.6,1.0],[53186,0.3,0.9],[53192,1.1,1.1],[53198,0.45,0.9],[53204,0.8,1.0],[53210,0.25,0.9],[53216,1.3,1.1],[53222,0.5,1.0],[53228,0.7,1.0],[53234,0.35,0.9],[53240,1.0,1.0],[53246,0.5,1.0],[53252,1.7,1.1],[53258,0.4,0.9],[53264,0.22,0.9],[53270,0.8,1.0],[53276,0.55,1.0],[53282,1.2,1.1],[53288,0.3,0.9],[53294,0.7,1.0],[53300,0.45,0.9],[53306,2.0,1.2],[53312,0.6,1.0],[53318,0.9,1.0],[53324,0.3,0.9],[53330,1.1,1.1],[53336,0.5,1.0],[53342,1.5,1.1],[53348,0.4,0.9],[53354,0.8,1.0],[53360,2.3,1.2],[53366,0.6,1.0],[53372,1.3,1.1],[53378,0.8,1.0],
[53442,0.8,1.0],[53448,0.35,0.9],[53454,1.5,1.1],[53460,0.5,1.0],[53466,0.25,0.9],[53472,0.9,1.0],[53478,0.4,0.9],[53484,1.2,1.1],[53490,0.6,1.0],[53496,0.3,0.9],[53502,0.75,1.0],[53508,0.45,0.9],[53514,1.1,1.1],[53520,0.28,0.9],[53526,0.6,1.0],[53532,0.4,0.9],[53538,1.4,1.1],[53544,0.5,1.0],[53550,0.8,1.0],[53556,0.24,0.9],[53562,0.65,1.0],[53568,1.0,1.0],[53574,0.4,0.9],[53580,0.3,0.9],[53586,1.2,1.1],[53592,0.5,1.0],[53598,0.8,1.0],[53604,0.35,0.9],[53610,0.6,1.0],[53616,1.5,1.1],[53622,0.45,0.9],[53628,0.9,1.0],[53634,0.3,0.9],[53640,0.7,1.0],[53646,1.1,1.1],[53652,0.5,1.0],[53658,0.8,1.0],[53664,1.3,1.1],[53670,1.8,1.1],[53676,1.0,1.0],[53682,2.2,1.2],
[53760,1.0,1.0],[53766,0.4,0.9],[53772,0.8,1.0],[53778,0.25,0.9],[53784,1.2,1.1],[53790,0.5,1.0],[53796,0.3,0.9],[53802,0.9,1.0],[53808,0.45,0.9],[53814,1.4,1.1],[53820,0.6,1.0],[53826,0.3,0.9],[53832,0.75,1.0],[53838,0.4,0.9],[53844,1.1,1.1],[53850,0.5,1.0],[53856,0.24,0.9],[53862,0.8,1.0],[53868,1.3,1.1],[53874,0.45,0.9],[53880,0.7,1.0],[53886,0.3,0.9],[53892,1.0,1.0],[53898,0.55,1.0],[53904,0.8,1.0],[53910,1.5,1.1],[53916,0.5,1.0],[53922,0.9,1.0],[53928,1.2,1.1],[53934,0.7,1.0],[53939,1.8,1.1],
[53964,0.6,1.0],[53970,0.3,0.9],[53976,1.0,1.0],[53982,0.45,0.9],[53988,0.8,1.0],[53994,0.25,0.9],[54000,1.3,1.1],[54006,0.5,1.0],[54012,0.7,1.0],[54018,0.35,0.9],[54024,1.1,1.1],[54030,0.5,1.0],[54036,0.28,0.9],[54042,0.9,1.0],[54048,0.4,0.9],[54054,1.5,1.1],[54060,0.6,1.0],[54066,0.35,0.9],[54072,1.2,1.1],
[54108,0.8,1.0],[54114,0.4,0.9],[54120,1.0,1.0],[54126,0.3,0.9],[54132,0.7,1.0],[54138,0.45,0.9],[54144,1.3,1.1],[54150,0.5,1.0],[54156,0.25,0.9],[54162,0.9,1.0],[54168,0.4,0.9],[54174,1.1,1.1],[54180,0.6,1.0],[54186,0.3,0.9],[54192,0.8,1.0],[54198,1.4,1.1],[54204,0.5,1.0],[54210,0.9,1.0],[54216,0.6,1.0],[54222,1.6,1.1],[54228,1.1,1.1],
[54266,0.5,1.0],[54272,1.2,1.1],[54278,0.35,0.9],[54284,0.8,1.0],[54290,0.3,0.9],[54296,1.0,1.0],[54302,0.45,0.9],[54308,1.4,1.1],[54314,0.6,1.0],[54320,0.3,0.9],[54326,0.9,1.0],[54332,0.5,1.0],[54338,1.3,1.1],[54344,1.8,1.1],
[54380,0.6,1.0],[54386,1.0,1.0],[54392,0.4,0.9],[54398,0.8,1.0],[54404,0.5,1.0],[54410,0.7,1.0]
];

// RXTE/ASM count rate, active intervals [MJD, cps, error]
const asmActive = [
[51304,2.0,0.8],[51308,4.5,1.0],[51311,10,1.2],[51314,18,1.5],[51317,25,1.8],[51319,28,2.0],[51321,27,2.0],[51323,22,1.8],[51325,15,1.5],[51327,10,1.3],[51329,6,1.1],[51331,4,1.0],
[51335,2.5,0.9],[51338,3.0,0.9],[51341,1.8,0.8],[51344,3.5,1.0],[51347,2.2,0.8],[51350,2.8,0.9],[51353,1.5,0.8],[51356,3.2,1.0],[51359,2.0,0.8],[51362,2.6,0.9],[51365,4.0,1.1],[51368,1.6,0.8],[51371,2.4,0.9],[51374,3.0,1.0],[51377,1.3,0.7],[51380,2.7,0.9],[51383,2.0,0.8],[51386,3.4,1.0],[51389,1.8,0.8],[51392,2.3,0.9],[51395,1.0,0.7],[51398,2.9,0.9],[51401,1.5,0.8],[51404,2.2,0.9],[51407,0.8,0.6],[51410,2.6,0.9],[51413,3.5,1.0],[51416,1.9,0.8],[51419,2.4,0.9],[51422,1.2,0.7],[51425,3.0,1.0],[51428,2.0,0.8],[51431,4.2,1.1],[51434,2.5,0.9],[51437,3.2,1.0],[51440,1.6,0.8],[51443,2.8,0.9],[51446,4.5,1.1],[51449,3.0,1.0],[51452,5.5,1.2],[51455,6.0,1.3],[51458,3.5,1.0],[51461,2.2,0.9],[51464,1.5,0.8],[51467,0.8,0.6],[51470,1.2,0.7],[51473,0.5,0.6],[51476,0.9,0.7],[51479,0.3,0.5],[51482,0.6,0.6],[51485,0.25,0.5],[51488,0.5,0.6],[51492,0.3,0.5],[51496,0.8,0.6],[51500,0.4,0.5],
[51548,2.5,1.0],[51552,3.2,1.1],[51556,2.0,0.9],[51560,3.5,1.1],[51564,2.8,1.0],[51568,1.8,0.9],[51572,3.0,1.0],[51576,2.4,1.0],[51580,3.3,1.1],[51584,1.6,0.8],[51588,2.6,1.0],
[51804,2.0,0.9],[51807,3.5,1.0],[51809,5.5,1.1],[51811,10,1.3],[51813,18,1.5],[51815,30,1.8],[51817,40,2.0],[51819,45,2.2],[51821,47,2.2],[51823,46,2.2],[51825,44,2.1],[51827,42,2.0],[51829,40,2.0],[51831,38,2.0],[51833,35,1.9],[51835,32,1.8],[51837,28,1.7],[51839,25,1.6],[51841,22,1.5],[51843,18,1.5],[51845,15,1.4],[51847,12,1.3],[51849,10,1.2],[51851,8,1.2],[51853,6,1.1],[51856,4.5,1.0],[51859,1.0,0.7],[51862,0.7,0.6],[51866,7.0,1.4],[51870,2.0,0.9],[51874,0.8,0.7],[51878,1.5,0.8],[51882,0.5,0.6],[51886,1.2,0.8],[51890,0.4,0.5],[51894,0.8,0.6],[51898,2.5,1.0],[51902,0.6,0.6],
[52082,2.5,1.0],[52085,3.5,1.1],[52088,4.5,1.2],[52091,3.0,1.0],[52094,2.2,0.9],[52097,4.0,1.1],[52100,2.8,1.0],[52103,1.8,0.9],[52106,3.2,1.0],[52109,1.5,0.8],[52112,2.0,0.9],[52115,1.0,0.7],[52118,0.6,0.6],
[52087,2.8,1.1],[52090,5.0,1.3],[52093,3.6,1.2],[52099,3.3,1.1],[52105,1.4,0.9],
[52286,3.5,1.1],[52290,3.0,1.0],[52294,4.0,1.1],[52298,2.5,1.0],[52302,3.8,1.1],[52306,1.5,0.8],[52310,2.2,0.9],[52314,3.0,1.0],[52318,5.0,1.2],[52321,7.0,1.3],[52324,9.0,1.4],[52327,11,1.4],[52330,14,1.5],[52333,16,1.5],[52336,13,1.4],[52339,12,1.4],[52342,10,1.3],[52345,8.5,1.3],[52348,7.0,1.2],[52351,6.0,1.2],[52354,4.5,1.1],
[52288,4.2,1.2],[52296,3.2,1.1],[52304,2.8,1.1],[52316,4.0,1.2],[52326,10.5,1.4],[52332,15,1.5],[52338,11,1.4],[52344,8.0,1.3],[52350,5.5,1.2],[52356,1.5,1.0],
[52689,6,1.1],[52691,10,1.3],[52693,18,1.5],[52695,30,1.8],[52697,42,2.0],[52699,50,2.2],[52701,52,2.2],[52703,48,2.2],[52705,46,2.1],[52707,44,2.1],[52709,40,2.0],[52711,36,1.9],[52713,32,1.8],[52715,28,1.7],[52717,22,1.6],[52719,18,1.5],[52721,14,1.4],[52723,10,1.3],[52725,8,1.2],[52727,6,1.1],[52730,4.5,1.0],[52733,3.0,1.0],[52736,1.5,0.8],[52740,0.8,0.7],
[53024,4.5,1.2],[53027,6.0,1.3],[53030,3.5,1.1],[53033,5.0,1.2],[53036,18,1.8],[53039,4.0,1.1],[53042,6.5,1.3],[53045,3.0,1.0],[53048,5.5,1.2],[53051,4.2,1.1],[53054,2.8,1.0],[53057,5.0,1.2],[53060,3.8,1.1],[53063,7.0,1.3],[53066,4.5,1.1],[53069,3.2,1.0],[53072,5.8,1.2],[53075,2.5,1.0],[53078,4.0,1.1],[53081,3.0,1.0],[53084,2.2,0.9],[53087,3.5,1.0],[53090,1.8,0.9],[53093,2.6,0.9],[53096,1.5,0.8],[53099,2.0,0.9],[53102,1.2,0.8],[53105,1.6,0.8],[53108,0.9,0.7],[53111,1.3,0.8],[53114,0.8,0.7],[53117,1.1,0.7],[53120,0.7,0.6],[53123,1.0,0.7],[53126,1.5,0.8],[53129,0.9,0.7],[53132,1.8,0.9],[53135,1.2,0.8],[53138,2.2,0.9],[53141,1.6,0.8],[53144,2.8,1.0],[53147,2.0,0.9],[53150,3.5,1.0],[53153,3.0,1.0],[53156,4.5,1.1],[53158,5.5,1.2],[53160,4.0,1.1],[53162,6.5,1.3],[53164,8.0,1.3],[53166,10,1.4],[53168,13,1.5],[53170,17,1.6],[53172,20,1.7],[53175,1.0,0.7],
[53026,3.8,1.2],[53029,8.0,1.5],[53038,6.0,1.4],[53044,5.5,1.3],[53050,6.2,1.4],[53056,4.4,1.3],[53062,3.0,1.2],[53068,2.4,1.1],[53074,3.4,1.2],[53080,3.8,1.2],[53089,1.3,1.0],[53101,0.8,0.9],[53113,0.7,0.9],[53122,0.6,0.9],[53131,1.4,1.0],[53140,3.0,1.2],[53149,2.6,1.1],[53157,5.0,1.3],[53163,7.5,1.4],[53167,12,1.5],[53171,18,1.7],
[53384,2.0,0.9],[53388,3.0,1.0],[53391,4.0,1.1],[53394,5.0,1.2],[53397,7.0,1.3],[53400,4.5,1.1],[53403,3.5,1.0],[53406,4.0,1.1],[53409,3.0,1.0],[53412,2.5,1.0],[53415,3.2,1.0],[53418,2.0,0.9],[53421,2.8,1.0],[53424,1.5,0.8],[53427,2.2,0.9],[53430,0.8,0.7],[53434,1.2,0.8],[53438,0.5,0.6],
[53392,5.5,1.3],[53395,6.0,1.4],[53401,5.0,1.3],[53407,4.4,1.2],[53413,3.6,1.2],[53419,3.0,1.2],[53425,2.6,1.1],
[53686,2.2,0.9],[53690,3.5,1.1],[53693,2.5,1.0],[53696,4.5,1.1],[53699,3.0,1.0],[53702,5.5,1.2],[53705,6.0,1.3],[53708,4.0,1.1],[53711,5.0,1.2],[53714,20,1.8],[53717,3.5,1.0],[53720,4.5,1.1],[53723,6.0,1.3],[53726,5.0,1.2],[53729,3.0,1.0],[53732,4.0,1.1],[53735,2.5,1.0],[53738,3.5,1.1],[53741,2.0,0.9],[53744,1.5,0.8],[53748,2.2,0.9],[53752,1.0,0.7],[53756,0.6,0.6],
[53694,3.8,1.2],[53700,4.2,1.2],[53706,5.0,1.3],[53712,6.0,1.4],[53719,5.5,1.3],[53725,4.8,1.3],[53731,3.6,1.2],[53737,2.8,1.1],[53743,2.4,1.1],
[53943,2.5,1.0],[53946,4.5,1.1],[53948,3.5,1.0],[53950,3.0,1.0],[53953,2.0,0.9],[53956,1.5,0.8],[53960,1.0,0.7],
[53944,3.2,1.2],[53949,4.0,1.2],[53951,2.4,1.1],
[54076,2.0,0.9],[54080,2.8,1.0],[54084,1.8,0.9],[54088,3.2,1.0],[54092,2.2,0.9],[54096,1.5,0.8],[54100,2.5,1.0],[54104,1.2,0.8],
[54078,2.2,1.1],[54086,2.5,1.1],[54094,2.8,1.1],
[54232,3.0,1.0],[54235,4.5,1.1],[54238,6.0,1.3],[54241,5.0,1.2],[54244,4.0,1.1],[54247,3.0,1.0],[54250,3.5,1.1],[54253,2.2,0.9],[54256,2.8,1.0],[54259,1.5,0.8],[54262,1.0,0.7],
[54236,5.0,1.3],[54242,5.5,1.3],[54248,2.6,1.1],[54254,1.8,1.0],
[54349,3.0,1.0],[54351,5.0,1.2],[54353,8.0,1.3],[54355,12,1.4],[54357,16,1.5],[54359,20,1.6],[54361,18,1.6],[54363,15,1.5],[54365,12,1.4],[54367,9,1.3],[54369,6,1.2],[54371,4,1.1],[54374,2.5,1.0],[54377,1.5,0.8],
[54356,14,1.5],[54360,19,1.6],[54364,13,1.5],[54368,7.5,1.3]
];
const asmRate = asmQuiet.concat(asmActive);

// ---------------- CHART ----------------
const svg = d3.select("#chart");
const FONT = 36;
const xL = 190, xR = 1888;
const x = d3.scaleLinear().domain([50948, 54500]).range([xL, xR]);
const mjdToDate = m => new Date(Date.UTC(1858, 10, 17) + m * 864e5);
const xDate = d3.scaleUtc().domain(x.domain().map(mjdToDate)).range(x.range());

const panels = [
  {top:122, bottom:487, y:d3.scaleLinear().domain([14.2,17.2]).range([122,487]), major:jTicks,
   minor:d3.range(142,173).map(v=>v/10), fmt:d3.format(".1f"), title:"J (mag)", data:jMag},
  {top:503, bottom:868, y:d3.scaleLinear().domain([14.4,19.4]).range([503,868]), major:rTicks,
   minor:d3.range(144,195).map(v=>v/10), fmt:d3.format(".1f"), title:"R (mag)", data:rMag},
  {top:886, bottom:1250, y:d3.scaleLog().domain([0.2,200]).range([1250,886]), major:asmTicks,
   minor:[0.2,0.3,0.4,0.5,0.6,0.7,0.8,0.9,2,3,4,5,6,7,8,9,20,30,40,50,60,70,80,90,200], fmt:d3.format("d"), title:"ASM (cps)", data:asmRate, log:true}
];

const MAJ = 18, MIN = 9;
const mjdMinor = d3.range(51000, 54501, 100);

function styleAxis(g){
  g.select(".domain").remove();
  g.selectAll(".tick line").attr("stroke","#111").attr("stroke-width",2);
  g.selectAll(".tick text").attr("font-size",FONT).attr("fill","#222");
}

panels.forEach((p, i) => {
  const g = svg.append("g");
  const cid = "clip" + i;
  svg.append("clipPath").attr("id", cid).append("rect")
     .attr("x", xL).attr("y", p.top).attr("width", xR - xL).attr("height", p.bottom - p.top);

  const plot = g.append("g").attr("clip-path", `url(#${cid})`);
  if (p.log) {
    const [lo] = p.y.domain();
    plot.append("g").selectAll("line").data(p.data).join("line")
      .attr("x1", d => x(d[0])).attr("x2", d => x(d[0]))
      .attr("y1", d => p.y(Math.max(lo, d[1] - d[2])))
      .attr("y2", d => p.y(d[1] + d[2]))
      .attr("stroke", "#c2c2c2").attr("stroke-width", 2.6);
  }
  const sym = d3.symbol().type(d3.symbolCross).size(44);
  plot.append("g").selectAll("path").data(p.data).join("path")
    .attr("transform", d => `translate(${x(d[0])},${p.y(d[1])})`)
    .attr("d", sym).attr("fill", "#000").attr("stroke", "#000").attr("stroke-width", 1.1)
    .attr("stroke-linejoin", "round");

  // left axis
  g.append("g").attr("transform", `translate(${xL},0)`)
    .call(d3.axisLeft(p.y).tickValues(p.major).tickFormat(p.fmt).tickSize(-MAJ).tickPadding(16)).call(styleAxis);
  g.append("g").attr("transform", `translate(${xL},0)`)
    .call(d3.axisLeft(p.y).tickValues(p.minor).tickFormat("").tickSize(-MIN)).call(styleAxis);
  // right axis
  g.append("g").attr("transform", `translate(${xR},0)`)
    .call(d3.axisRight(p.y).tickValues(p.major).tickFormat("").tickSize(-MAJ)).call(styleAxis);
  g.append("g").attr("transform", `translate(${xR},0)`)
    .call(d3.axisRight(p.y).tickValues(p.minor).tickFormat("").tickSize(-MIN)).call(styleAxis);
  // bottom axis
  const last = i === panels.length - 1;
  g.append("g").attr("transform", `translate(0,${p.bottom})`)
    .call(d3.axisBottom(x).tickValues(mjdTicksMajor).tickFormat(last ? d3.format("d") : "").tickSize(-MAJ+1).tickPadding(26)).call(styleAxis);
  g.append("g").attr("transform", `translate(0,${p.bottom})`)
    .call(d3.axisBottom(x).tickValues(mjdMinor).tickFormat("").tickSize(-MIN)).call(styleAxis);
  // top axis
  if (i === 0) {
    g.append("g").attr("transform", `translate(0,${p.top})`)
      .call(d3.axisTop(xDate).ticks(d3.utcYear.every(1)).tickFormat(d3.utcFormat("%Y")).tickSize(-MAJ+1).tickPadding(22)).call(styleAxis);
    g.append("g").attr("transform", `translate(0,${p.top})`)
      .call(d3.axisTop(xDate).ticks(d3.utcMonth.every(3)).tickFormat("").tickSize(-MIN)).call(styleAxis);
  } else {
    g.append("g").attr("transform", `translate(0,${p.top})`)
      .call(d3.axisTop(x).tickValues(mjdTicksMajor).tickFormat("").tickSize(-MAJ+1)).call(styleAxis);
    g.append("g").attr("transform", `translate(0,${p.top})`)
      .call(d3.axisTop(x).tickValues(mjdMinor).tickFormat("").tickSize(-MIN)).call(styleAxis);
  }
  // frame
  g.append("rect").attr("x", xL).attr("y", p.top).attr("width", xR - xL).attr("height", p.bottom - p.top)
    .attr("fill", "none").attr("stroke", "#111").attr("stroke-width", 2.2);
  // y title
  g.append("text").attr("transform", `translate(74,${(p.top + p.bottom) / 2}) rotate(-90)`)
    .attr("text-anchor", "middle").attr("font-size", FONT).text(p.title);
});

svg.append("text").attr("x", (xL + xR) / 2).attr("y", 40).attr("text-anchor", "middle")
  .attr("font-size", FONT).text("Calendar Date");
svg.append("text").attr("x", (xL + xR) / 2).attr("y", 1357).attr("text-anchor", "middle")
  .attr("font-size", FONT).text("MJD");
</script>
</body></html>
